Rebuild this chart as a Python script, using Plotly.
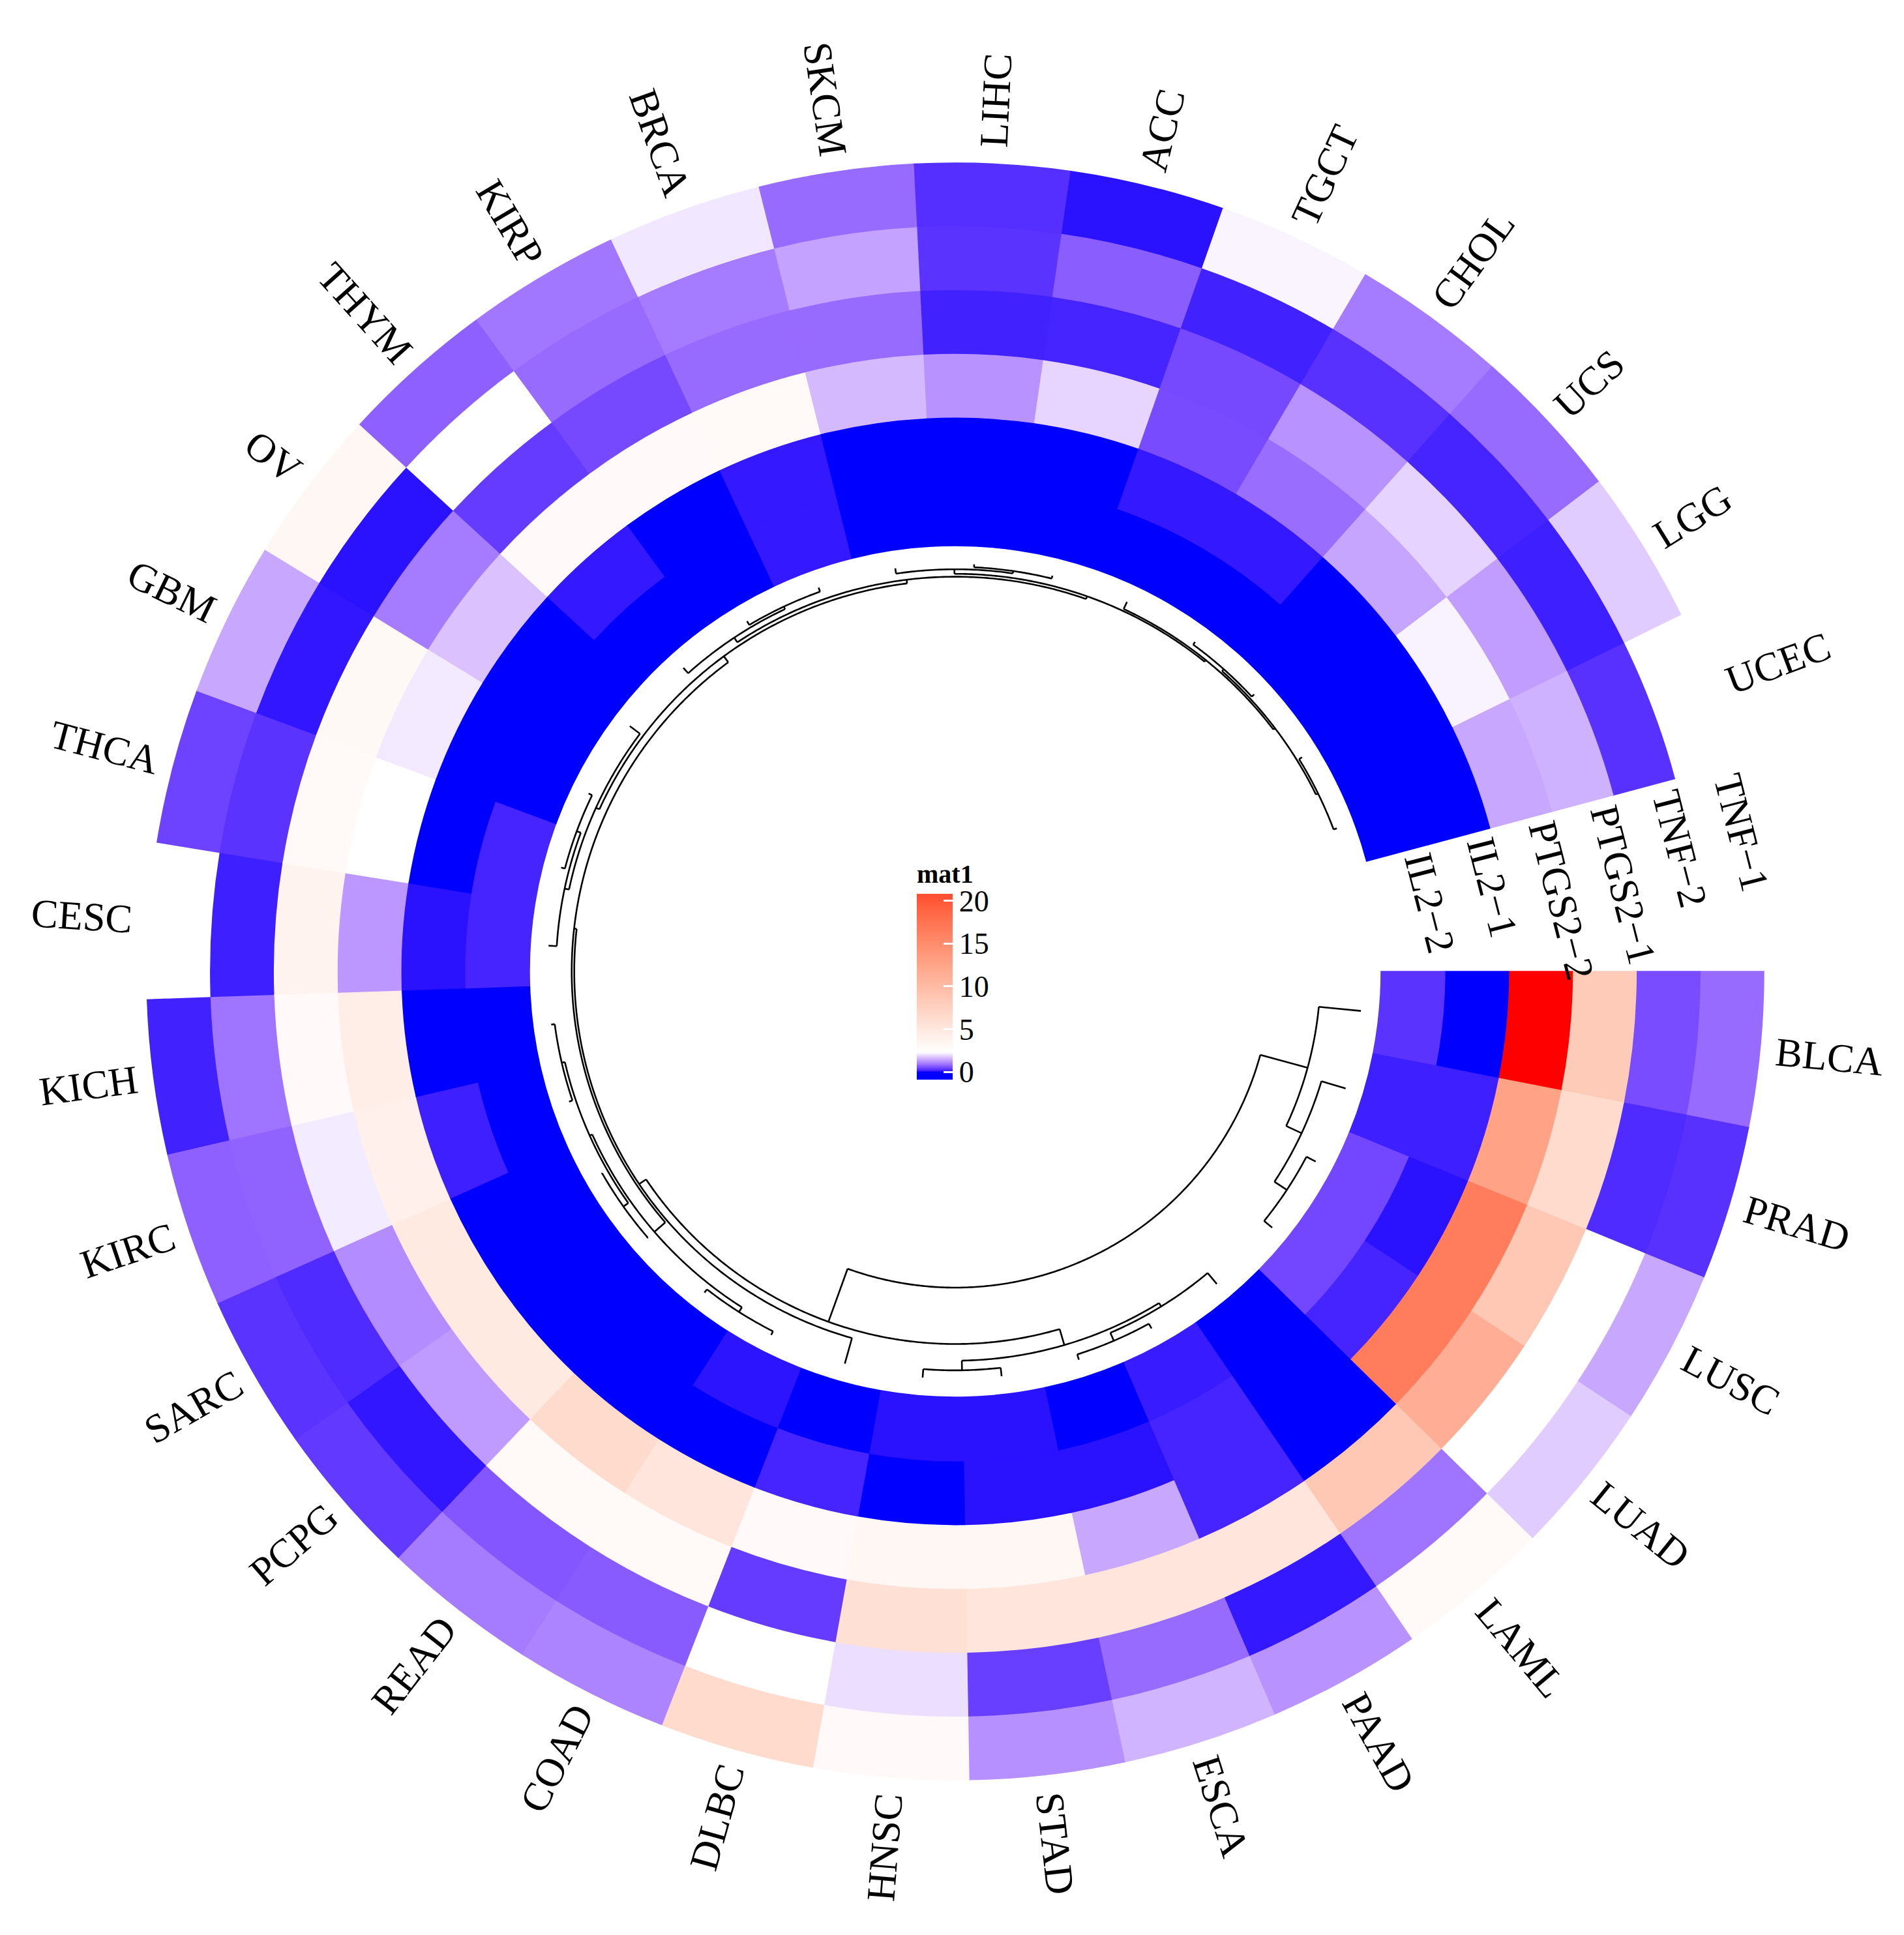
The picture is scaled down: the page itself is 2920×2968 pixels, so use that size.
import numpy as np
import plotly.graph_objects as go

# ---------------- data ----------------
CANCERS = ["BLCA", "PRAD", "LUSC", "LUAD", "LAML", "PAAD", "ESCA", "STAD", "HNSC", "DLBC",
           "COAD", "READ", "PCPG", "SARC", "KIRC", "KICH", "CESC", "THCA", "GBM", "OV",
           "THYM", "KIRP", "BRCA", "SKCM", "LIHC", "ACC", "TGCT", "CHOL", "UCS", "LGG", "UCEC"]

TRACK_LABELS = ["TNF\u22121", "TNF\u22122", "PTGS2\u22121", "PTGS2\u22122", "IL2\u22121", "IL2\u22122"]  # outer -> inner

TNF_1 = [0.83, 0.28, 1.43, 1.80, 2.95, 1.22, 1.56, 1.20, 2.80, 6.40,
         1.08, 0.99, 0.35, 0.30, 0.71, 0.16, 2.30, 0.44, 1.43, 3.20,
         0.71, 0.95, 2.07, 0.83, 0.26, 0.07, 2.20, 0.99, 0.83, 1.80, 2.30]
TNF_2 = [0.53, 0.23, 2.30, 2.30, 0.92, 0.10, 0.83, 0.39, 1.98, 2.30,
         0.67, 0.62, 0.09, 0.23, 0.75, 0.92, 0.14, 0.30, 0.09, 0.07,
         2.30, 0.83, 0.99, 1.38, 0.30, 0.69, 0.16, 0.28, 0.18, 0.14, 0.28]
PTGS2_1 = [8.2, 6.4, 8.6, 11.4, 8.6, 5.3, 5.3, 5.3, 5.8, 0.37,
           2.95, 2.95, 1.31, 1.15, 2.10, 2.80, 3.60, 2.95, 3.00, 0.99,
           0.37, 0.50, 0.83, 0.83, 0.16, 0.18, 0.50, 1.22, 1.87, 1.33, 1.54]
PTGS2_2 = [24.0, 12.7, 16.6, 16.6, 0.0, 0.18, 1.43, 3.2, 3.2, 2.8,
           5.3, 6.4, 4.7, 4.7, 4.0, 4.3, 1.27, 2.30, 2.09, 1.70,
           2.80, 2.80, 2.95, 1.61, 1.22, 1.89, 0.52, 0.85, 1.41, 2.18, 1.43]
IL2_1 = [0.0, 0.14, 0.07, 0.18, 0.0, 0.18, 0.07, 0.07, 0.0, 0.18,
         0.0, 0.0, 0.0, 0.0, 0.14, 0.0, 0.07, 0.0, 0.0, 0.0,
         0.10, 0.0, 0.10, 0.0, 0.0, 0.0, 0.10, 0.10, 0.0, 0.0, 0.0]
IL2_2 = [0.30, 0.14, 0.48, 0.48, 0.0, 0.12, 0.0, 0.07, 0.07, 0.0,
         0.08, 0.0, 0.0, 0.0, 0.0, 0.0, 0.18, 0.18, 0.0, 0.0,
         0.0, 0.0, 0.10, 0.0, 0.0, 0.0, 0.0, 0.0, 0.0, 0.0, 0.0]

COLOR_BREAKS = [0.0, 2.3, 24.0]
COLOR_HEX = ["#0000FF", "#FFFFFF", "#FF0000"]
LEGEND_TITLE = "mat1"
LEGEND_TICKS = [0, 5, 10, 15, 20]
LEGEND_RANGE = [-0.9, 20.8]

# ---------------- geometry / style ----------------
W, H = 2920, 2968
CX, CY = 1457, 1482
R_IN, R_OUT = 653, 1240
GAP_DEG = 15.0
R_LEAF, R_ROOT = 625, 485
R_PLOT = 1250
FONT = "Liberation Serif, Times New Roman, serif"

# ---------------- LAB colour ramp (like circlize colorRamp2) ----------------
_M = np.array([[0.4124564, 0.3575761, 0.1804375],
               [0.2126729, 0.7151522, 0.0721750],
               [0.0193339, 0.1191920, 0.9503041]])
_MI = np.linalg.inv(_M)
_WP = np.array([0.95047, 1.0, 1.08883])


def hex_to_lab(hx):
    c = np.array([int(hx[i:i + 2], 16) for i in (1, 3, 5)]) / 255.0
    lin = np.where(c <= 0.04045, c / 12.92, ((c + 0.055) / 1.055) ** 2.4)
    t = (_M @ lin) / _WP
    d = 6 / 29
    f = np.where(t > d ** 3, np.cbrt(t), t / (3 * d * d) + 4 / 29)
    return np.array([116 * f[1] - 16, 500 * (f[0] - f[1]), 200 * (f[1] - f[2])])


def lab_to_rgb(lab):
    L, a, b = lab
    fy = (L + 16) / 116
    fx = fy + a / 500
    fz = fy - b / 200
    d = 6 / 29
    f = np.array([fx, fy, fz])
    xyz = np.where(f > d, f ** 3, 3 * d * d * (f - 4 / 29)) * _WP
    lin = np.clip(_MI @ xyz, 0, 1)
    c = np.where(lin <= 0.0031308, 12.92 * lin, 1.055 * lin ** (1 / 2.4) - 0.055)
    return tuple(int(round(x)) for x in np.clip(c, 0, 1) * 255)


_LABS = [hex_to_lab(h) for h in COLOR_HEX]


def ramp(v):
    v = min(max(v, COLOR_BREAKS[0]), COLOR_BREAKS[-1])
    for i in range(len(COLOR_BREAKS) - 1):
        lo, hi = COLOR_BREAKS[i], COLOR_BREAKS[i + 1]
        if v <= hi:
            t = (v - lo) / (hi - lo)
            r, g, b = lab_to_rgb(_LABS[i] + t * (_LABS[i + 1] - _LABS[i]))
            return f"rgb({r},{g},{b})"
    return COLOR_HEX[-1]


def make_scale(vmin, vmax):
    vals = np.concatenate([[vmin, vmax],
                           np.linspace(COLOR_BREAKS[0], COLOR_BREAKS[1], 50),
                           np.linspace(COLOR_BREAKS[1], COLOR_BREAKS[2], 100)])
    vals = np.unique(np.round(vals[(vals >= vmin) & (vals <= vmax)], 6))
    return [[float((v - vmin) / (vmax - vmin)), ramp(v)] for v in vals]


# ---------------- heatmap cells ----------------
MAT = np.array([TNF_1, TNF_2, PTGS2_1, PTGS2_2, IL2_1, IL2_2])
n_tr, n = MAT.shape
sec_w = (360.0 - GAP_DEG) / n
theta_c = (np.arange(n) + 0.5) * sec_w
ring_w = (R_OUT - R_IN) / n_tr

r_list, base_list, th_list, val_list = [], [], [], []
for k in range(n_tr):
    for i in range(n):
        r_list.append(ring_w)
        base_list.append(R_OUT - (k + 1) * ring_w)
        th_list.append(theta_c[i])
        val_list.append(MAT[k, i])

fig = go.Figure()
fig.add_trace(go.Barpolar(
    r=r_list, base=base_list, theta=th_list, width=[sec_w] * len(r_list),
    marker=dict(color=val_list, coloraxis="coloraxis",
                line=dict(color=val_list, coloraxis="coloraxis", width=1.5)),
    hoverinfo="skip", showlegend=False))

# ---------------- dendrogram (adjacent-constrained complete linkage) ----------------
X = MAT.T
D = np.sqrt(((X[:, None, :] - X[None, :, :]) ** 2).sum(-1))
clusters = [[i] for i in range(n)]
cl_node = list(range(n))
nodes = [(theta_c[i], 0.0) for i in range(n)]
merges = []
while len(clusters) > 1:
    dists = [D[np.ix_(clusters[j], clusters[j + 1])].max() for j in range(len(clusters) - 1)]
    j = int(np.argmin(dists))
    h = dists[j]
    a, b = cl_node[j], cl_node[j + 1]
    nodes.append(((nodes[a][0] + nodes[b][0]) / 2, h))
    merges.append((a, b, len(nodes) - 1))
    clusters[j] = clusters[j] + clusters[j + 1]
    del clusters[j + 1]
    cl_node[j] = len(nodes) - 1
    del cl_node[j + 1]
H_ROOT = nodes[-1][1]


def rad(hh):
    return R_LEAF - hh / H_ROOT * (R_LEAF - R_ROOT)


dr, dt = [], []
for a, b, p in merges:
    ap, hp = nodes[p]
    a1, a2 = nodes[a][0], nodes[b][0]
    arc = np.linspace(a1, a2, max(2, int(abs(a2 - a1) / 0.4) + 2))
    dr += [rad(hp)] * len(arc) + [None]
    dt += list(arc) + [None]
    for c in (a, b):
        dr += [rad(hp), rad(nodes[c][1]), None]
        dt += [nodes[c][0], nodes[c][0], None]
fig.add_trace(go.Scatterpolar(r=dr, theta=dt, mode="lines",
                              line=dict(color="black", width=2.6),
                              hoverinfo="skip", showlegend=False))

# legend dummy trace
fig.add_trace(go.Scatterpolar(r=[0], theta=[0], mode="markers",
                              marker=dict(color=[0], coloraxis="coloraxis2", size=1, opacity=0),
                              hoverinfo="skip", showlegend=False))

# ---------------- labels ----------------
CHAR_W = {'A': 722, 'B': 667, 'C': 667, 'D': 722, 'E': 611, 'F': 556, 'G': 722, 'H': 722,
          'I': 333, 'K': 722, 'L': 611, 'M': 889, 'N': 722, 'O': 722, 'P': 556, 'R': 667,
          'S': 556, 'T': 611, 'U': 722, 'V': 722, 'Y': 722, '0': 500, '1': 500, '2': 500,
          '\u2212': 564}


def text_len(s, size):
    return sum(CHAR_W.get(ch, 600) for ch in s) * size / 1000.0


def to_paper(px, py):
    return px / W, 1 - py / H


annotations = []
SEC_SIZE = 62
for i, name in enumerate(CANCERS):
    a = theta_c[i]
    L = text_len(name, SEC_SIZE)
    rc = R_OUT + 25 + L / 2
    px = CX + rc * np.cos(np.radians(a))
    py = CY + rc * np.sin(np.radians(a))
    if 90 < a < 270:
        ang = a - 180
    else:
        ang = a if a <= 180 else a - 360
    x, y = to_paper(px, py)
    annotations.append(dict(x=x, y=y, xref="paper", yref="paper", text=name, showarrow=False,
                            textangle=ang, xanchor="center", yanchor="middle",
                            font=dict(family=FONT, size=SEC_SIZE, color="black")))

TR_SIZE = 62
th_s = -(GAP_DEG - 0.7)
dir_deg = th_s + 90
for k, lab in enumerate(TRACK_LABELS):
    rr = R_OUT - (k + 0.5) * ring_w + 30
    sx = CX + rr * np.cos(np.radians(th_s))
    sy = CY + rr * np.sin(np.radians(th_s))
    L = text_len(lab, TR_SIZE)
    px = sx + L / 2 * np.cos(np.radians(dir_deg))
    py = sy + L / 2 * np.sin(np.radians(dir_deg))
    x, y = to_paper(px, py)
    annotations.append(dict(x=x, y=y, xref="paper", yref="paper", text=lab, showarrow=False,
                            textangle=dir_deg, xanchor="center", yanchor="middle",
                            font=dict(family=FONT, size=TR_SIZE, color="black")))

# ---------------- legend (colorbar) ----------------
CB_X0, CB_THICK = 1398, 55
CB_BOTTOM, CB_BAR = 1648, 273
CB_TITLE_SPACE = 62
shapes = []
for tv in LEGEND_TICKS:
    yy = CB_BOTTOM - (tv - LEGEND_RANGE[0]) / (LEGEND_RANGE[1] - LEGEND_RANGE[0]) * CB_BAR
    x0, y0 = to_paper(CB_X0, yy)
    x1, _ = to_paper(CB_X0 + 14, yy)
    shapes.append(dict(type="line", xref="paper", yref="paper", x0=x0, x1=x1, y0=y0, y1=y0,
                       line=dict(color="white", width=3), layer="above"))

fig.update_layout(
    width=W, height=H, margin=dict(l=0, r=0, t=0, b=0),
    paper_bgcolor="white", plot_bgcolor="white", showlegend=False,
    polar=dict(
        domain=dict(x=[(CX - R_PLOT) / W, (CX + R_PLOT) / W],
                    y=[(H - CY - R_PLOT) / H, (H - CY + R_PLOT) / H]),
        bgcolor="white", hole=0, bargap=0,
        radialaxis=dict(range=[0, R_PLOT], visible=False, showgrid=False),
        angularaxis=dict(visible=False, direction="clockwise", rotation=0, showgrid=False),
    ),
    coloraxis=dict(cmin=COLOR_BREAKS[0], cmax=COLOR_BREAKS[-1],
                   colorscale=make_scale(COLOR_BREAKS[0], COLOR_BREAKS[-1]), showscale=False),
    coloraxis2=dict(cmin=LEGEND_RANGE[0], cmax=LEGEND_RANGE[1],
                    colorscale=make_scale(LEGEND_RANGE[0], LEGEND_RANGE[1]), showscale=True,
                    colorbar=dict(
                        title=dict(text="<b>" + LEGEND_TITLE + "</b>", side="top",
                                   font=dict(family=FONT, size=40, color="black")),
                        x=CB_X0 / W, xanchor="left", xpad=0,
                        y=1 - CB_BOTTOM / H, yanchor="bottom", ypad=0,
                        len=CB_BAR + CB_TITLE_SPACE, lenmode="pixels",
                        thickness=CB_THICK, thicknessmode="pixels",
                        outlinewidth=0, tickvals=LEGEND_TICKS,
                        ticktext=[str(t) for t in LEGEND_TICKS],
                        ticks="inside", tickcolor="white", ticklen=14, tickwidth=3,
                        tickfont=dict(family=FONT, size=46, color="black"))),
    annotations=annotations, shapes=shapes,
)

fig.write_html("out.html")
